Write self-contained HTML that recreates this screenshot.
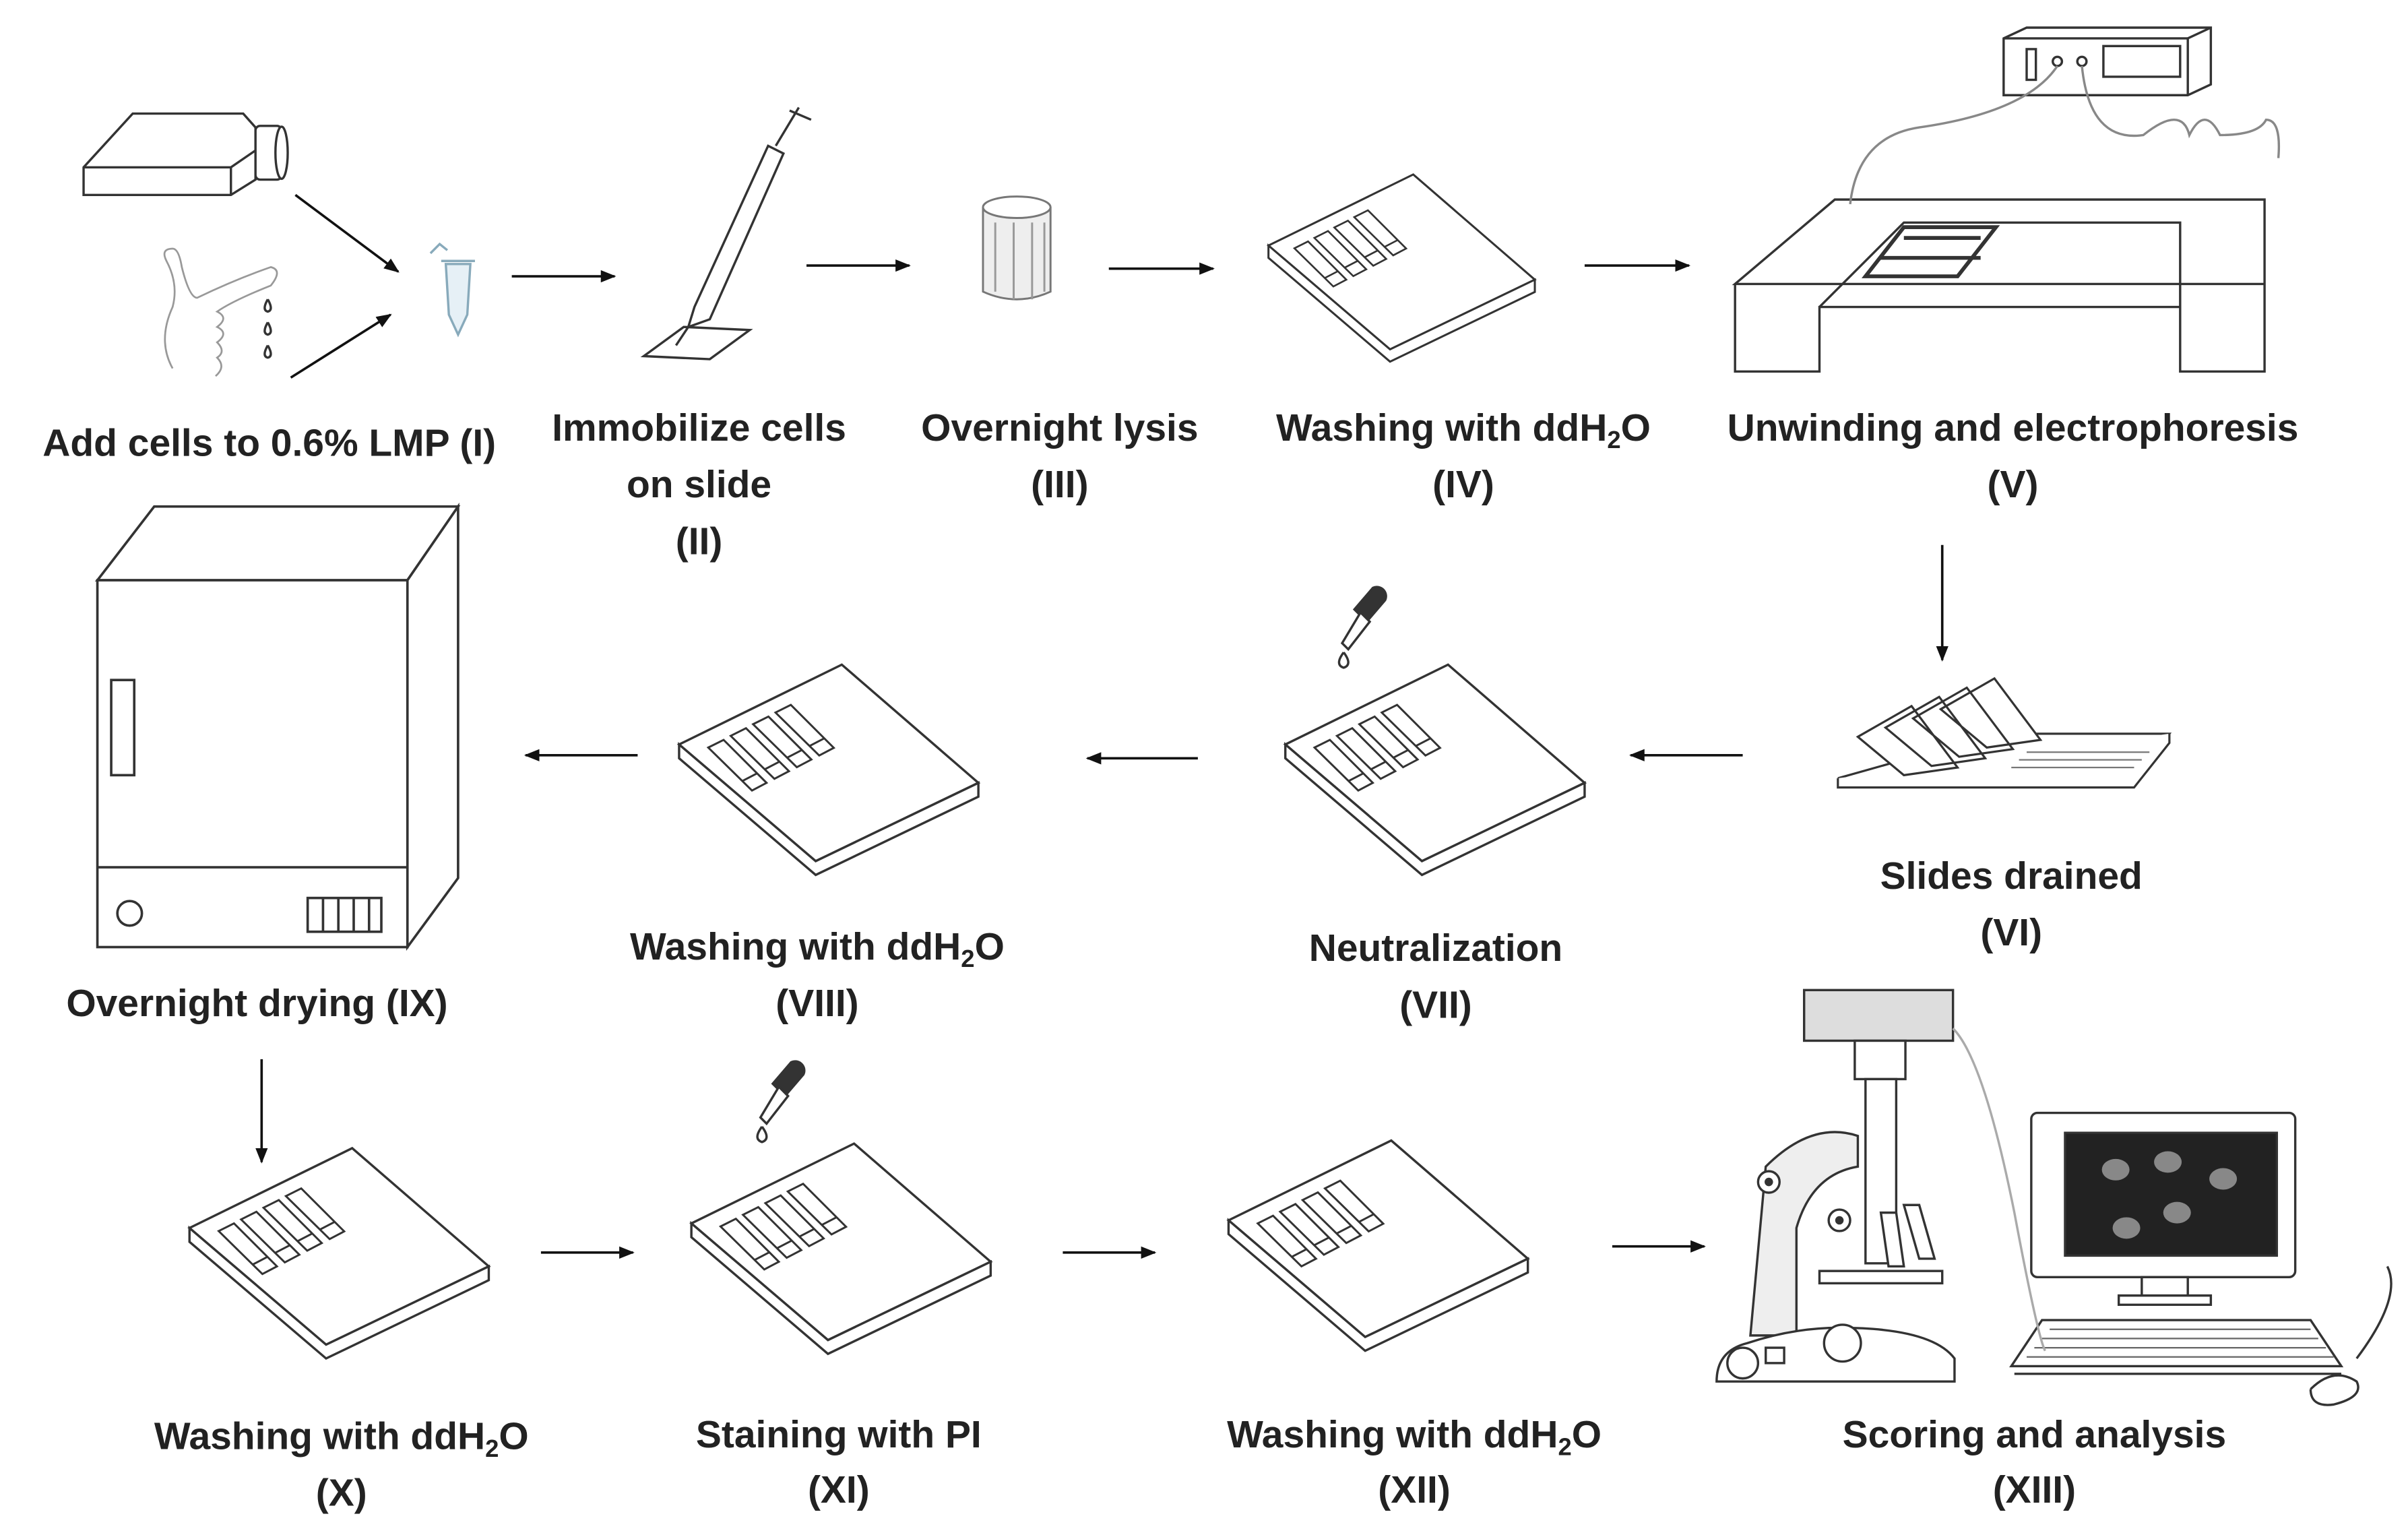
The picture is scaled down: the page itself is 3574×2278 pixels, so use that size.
<!DOCTYPE html>
<html><head><meta charset="utf-8"><style>
html,body{margin:0;padding:0;background:#fff}
svg{display:block}
text{font-family:"Liberation Sans",sans-serif;font-weight:bold;font-size:25px;fill:#222;text-anchor:middle}
</style></head><body>
<svg width="3574" height="2278" viewBox="0 0 1568 1000" xmlns="http://www.w3.org/2000/svg">
<defs>
<marker id="ah" markerWidth="10" markerHeight="8" refX="9" refY="4" orient="auto" markerUnits="userSpaceOnUse">
<path d="M0,0 L10,4 L0,8 z" fill="#111"/></marker>
<g id="well" fill="#fff" stroke="#333" stroke-width="1.3">
<path d="M19,57 L29,52 L57,80 L47.5,85 z"/>
<path d="M41.2,78.8 L50.8,73.8"/>
</g>
<g id="slide" fill="#fff" stroke="#333" stroke-width="1.5">
<path d="M0,55 L106,3 L195,80 L89,131 z"/>
<path d="M0,55 L0,64 L89,140 L195,89 L195,80 L89,131 z"/>
<use href="#well"/>
<use href="#well" x="14.6" y="-7.6"/>
<use href="#well" x="29.2" y="-15.2"/>
<use href="#well" x="43.8" y="-22.8"/>
</g>
<g id="dropper" fill="#fff" stroke="#333" stroke-width="1.5">
<path d="M22,0 a6,6 0 0 1 8,8 l-12,14 l-8,-8 z" fill="#333"/>
<path d="M14,16 l6,6 l-14,18 l-4,-4 z"/>
<path d="M3,42 q-6,8 0,10 q6,-2 0,-10" />
</g>
</defs>

<g stroke="#111" stroke-width="1.6" fill="none" marker-end="url(#ah)">
<line x1="192" y1="127" x2="259" y2="177"/>
<line x1="189" y1="246" x2="254" y2="205"/>
<line x1="333" y1="180" x2="400" y2="180"/>
<line x1="525" y1="173" x2="592" y2="173"/>
<line x1="722" y1="175" x2="790" y2="175"/>
<line x1="1032" y1="173" x2="1100" y2="173"/>
<line x1="1265" y1="355" x2="1265" y2="430"/>
<line x1="1135" y1="492" x2="1062" y2="492"/>
<line x1="780" y1="494" x2="708" y2="494"/>
<line x1="415" y1="492" x2="342" y2="492"/>
<line x1="170" y1="690" x2="170" y2="757"/>
<line x1="352" y1="816" x2="412" y2="816"/>
<line x1="692" y1="816" x2="752" y2="816"/>
<line x1="1050" y1="812" x2="1110" y2="812"/>
</g>

<!-- step I -->
<g fill="#fff" stroke="#333" stroke-width="1.5">
<path d="M54,109 L86,74 L158,74 L166,83 L166,117 L150,127 L54,127 z"/>
<path d="M54,109 L150,109 L166,98 M150,109 L150,127"/>
<rect x="166" y="82" width="17" height="35" rx="3"/>
<ellipse cx="183" cy="99.5" rx="4" ry="17"/>
<path d="M112,240 q-10,-18 0,-40 q4,-15 -4,-30 q-4,-8 4,-8 q4,0 6,12 q5,20 10,20 q25,-12 48,-20 q8,2 0,12 q-25,10 -35,17 q8,4 0,10 q8,4 0,10 q6,6 0,10 q6,6 -1,12" stroke="#999" stroke-width="1.2"/>
<path d="M174,195 q-4,7 0,8 q4,-1 0,-8 M174,210 q-4,7 0,8 q4,-1 0,-8 M174,225 q-4,7 0,8 q4,-1 0,-8" stroke="#333"/>
<path d="M290,172 l16,0 l-2,33 l-6,13 l-6,-13 z" stroke="#8ab" fill="#e6f0f6"/>
<path d="M287,170 h22 M280,165 l6,-6 l5,4" stroke="#8ab"/>
</g>
<!-- step II syringe -->
<g fill="#fff" stroke="#333" stroke-width="1.5">
<path d="M419,232 L445,213 L488,215 L462,234 z"/>
<path d="M448,213 L452,200 L500,95 L510,100 L462,208 z"/>
<path d="M505,95 L520,70 M514,72 l14,6"/>
<line x1="448" y1="213" x2="440" y2="225"/>
</g>
<!-- step III jar -->
<g fill="#eee" stroke="#777" stroke-width="1.3">
<path d="M640,135 l0,55 q22,10 44,0 l0,-55"/>
<ellipse cx="662" cy="135" rx="22" ry="7" fill="#fff"/>
<path d="M648,145 v45 M660,145 v50 M672,145 v50 M680,145 v45" stroke="#999"/>
</g>
<!-- slides -->
<use href="#slide" transform="translate(826,111) scale(0.89)"/>
<use href="#slide" x="442" y="430"/>
<use href="#slide" x="837" y="430"/>
<use href="#slide" x="123" y="745"/>
<use href="#slide" x="450" y="742"/>
<use href="#slide" x="800" y="740"/>
<use href="#dropper" x="872" y="383"/>
<use href="#dropper" x="493" y="692"/>

<!-- step V -->
<g fill="none" stroke="#333" stroke-width="1.5">
<path d="M1130,185 L1195,130 L1475,130 L1475,185 z M1130,185 L1130,242 L1185,242 L1185,200 L1420,200 L1420,242 L1475,242 L1475,185 M1130,185 L1475,185 M1185,200 L1240,145 L1420,145 L1420,200"/>
<path d="M1215,180 L1240,148 L1300,148 L1275,180 z M1225,168 L1290,168 M1240,155 h50" stroke-width="2.5"/>
<path d="M1305,25 L1320,18 L1440,18 L1440,55 L1425,62 L1305,62 z M1305,25 L1425,25 L1440,18 M1425,25 V62" fill="#fff"/>
<rect x="1320" y="32" width="6" height="20"/><rect x="1370" y="30" width="50" height="20"/>
<circle cx="1340" cy="40" r="3"/><circle cx="1356" cy="40" r="3"/>
<path d="M1340,43 q-20,30 -90,40 q-40,6 -45,50 M1356,43 q5,50 40,45 q25,-20 30,0 q10,-20 20,0 q25,0 30,-10 q10,0 8,25" stroke="#888"/>
</g>
<!-- step VI -->
<g fill="#fff" stroke="#333" stroke-width="1.4">
<path d="M1197,507 L1390,507 L1413,478 L1300,478 z"/>
<path d="M1197,507 L1197,513 L1390,513 L1413,484 L1413,478"/>
<path d="M1210,480 l35,-20 l30,40 l-35,5 z M1228,474 l35,-20 l30,40 l-35,5 z M1246,468 l35,-20 l30,40 l-35,5 z M1264,462 l35,-20 l30,40 l-35,5 z"/>
<path d="M1320,490 h80 M1315,495 h80 M1310,500 h80" stroke="#777" stroke-width="1"/>
</g>
<!-- incubator -->
<g fill="#fff" stroke="#333" stroke-width="1.6">
<path d="M63,378 L100,330 L298,330 L265,378 z"/>
<path d="M265,378 L298,330 L298,572 L265,617 z"/>
<rect x="63" y="378" width="202" height="239"/>
<line x1="63" y1="565" x2="265" y2="565"/>
<rect x="72" y="443" width="15" height="62"/>
<circle cx="84" cy="595" r="8"/>
<rect x="200" y="585" width="48" height="22"/>
<path d="M210,585 v22 M220,585 v22 M230,585 v22 M240,585 v22"/>
</g>
<!-- microscope -->
<g fill="#fff" stroke="#333" stroke-width="1.5">
<rect x="1175" y="645" width="97" height="33" fill="#ddd"/>
<rect x="1208" y="678" width="33" height="25"/>
<path d="M1215,703 h20 v120 h-20 z"/>
<path d="M1150,760 q30,-30 60,-20 l0,20 q-30,5 -40,40 l0,70 h-30 z" fill="#eee"/>
<circle cx="1152" cy="770" r="7"/><circle cx="1152" cy="770" r="2" fill="#333"/>
<circle cx="1198" cy="795" r="7"/><circle cx="1198" cy="795" r="2" fill="#333"/>
<path d="M1225,790 l5,35 h10 l-5,-35 z M1240,785 l10,35 h10 l-10,-35 z"/>
<rect x="1185" y="828" width="80" height="8"/>
<path d="M1118,900 q0,-20 20,-25 q30,-10 60,-10 q60,0 75,20 l0,15 z"/>
<circle cx="1135" cy="888" r="10"/><rect x="1150" y="878" width="12" height="10"/>
<circle cx="1200" cy="875" r="12"/>
</g>
<!-- computer -->
<g stroke="#333" stroke-width="1.5">
<rect x="1323" y="725" width="172" height="107" rx="4" fill="#fff"/>
<rect x="1345" y="738" width="138" height="80" fill="#222"/>
<g fill="#888" stroke="none">
<ellipse cx="1378" cy="762" rx="9" ry="7"/><ellipse cx="1412" cy="757" rx="9" ry="7"/>
<ellipse cx="1448" cy="768" rx="9" ry="7"/><ellipse cx="1418" cy="790" rx="9" ry="7"/>
<ellipse cx="1385" cy="800" rx="9" ry="7"/></g>
<path d="M1395,832 h30 v12 h-30 z M1380,844 h60 v6 h-60 z" fill="#fff"/>
<path d="M1330,860 L1505,860 L1525,890 L1310,890 z" fill="#fff"/>
<path d="M1312,895 L1525,895" />
<g stroke="#666" stroke-width="1"><path d="M1335,866 h170 M1330,872 h180 M1325,878 h190 M1320,884 h200"/></g>
<path d="M1535,885 q30,-40 20,-60 M1505,905 q15,-15 30,-5 q5,10 -15,15 q-15,2 -15,-10" fill="#fff"/>
<path d="M1272,670 q20,20 40,120 q15,80 20,90" stroke="#aaa" fill="none"/>
</g>

<!-- labels -->
<text x="175" y="297">Add cells to 0.6% LMP (I)</text>
<text x="455" y="287">Immobilize cells</text>
<text x="455" y="324">on slide</text>
<text x="455" y="361">(II)</text>
<text x="690" y="287">Overnight lysis</text>
<text x="690" y="324">(III)</text>
<text x="953" y="287">Washing with ddH<tspan font-size="16" dy="5">2</tspan><tspan dy="-5">O</tspan></text>
<text x="953" y="324">(IV)</text>
<text x="1311" y="287">Unwinding and electrophoresis</text>
<text x="1311" y="324">(V)</text>
<text x="1310" y="579">Slides drained</text>
<text x="1310" y="616">(VI)</text>
<text x="935" y="626">Neutralization</text>
<text x="935" y="663">(VII)</text>
<text x="532" y="625">Washing with ddH<tspan font-size="16" dy="5">2</tspan><tspan dy="-5">O</tspan></text>
<text x="532" y="662">(VIII)</text>
<text x="167" y="662">Overnight drying (IX)</text>
<text x="222" y="944">Washing with ddH<tspan font-size="16" dy="5">2</tspan><tspan dy="-5">O</tspan></text>
<text x="222" y="981">(X)</text>
<text x="546" y="943">Staining with PI</text>
<text x="546" y="979">(XI)</text>
<text x="921" y="943">Washing with ddH<tspan font-size="16" dy="5">2</tspan><tspan dy="-5">O</tspan></text>
<text x="921" y="979">(XII)</text>
<text x="1325" y="943">Scoring and analysis</text>
<text x="1325" y="979">(XIII)</text>
</svg>
</body></html>
